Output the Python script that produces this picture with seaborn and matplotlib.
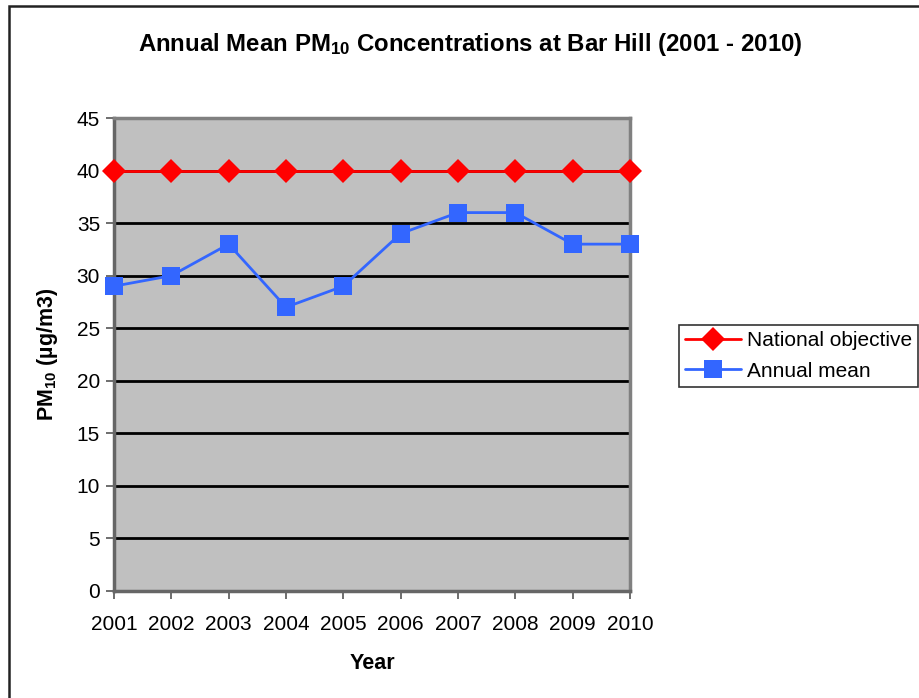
import matplotlib
matplotlib.use("Agg")
import matplotlib.pyplot as plt
from matplotlib.patches import Rectangle
import seaborn as sns
import pandas as pd

years = ["2001", "2002", "2003", "2004", "2005", "2006", "2007", "2008", "2009", "2010"]
national_objective = [40, 40, 40, 40, 40, 40, 40, 40, 40, 40]
annual_mean = [29, 30, 33, 27, 29, 34, 36, 36, 33, 33]
y_ticks = [0, 5, 10, 15, 20, 25, 30, 35, 40, 45]

sns.set_theme(style="white")
plt.rcParams["font.family"] = ["Liberation Sans", "DejaVu Sans"]
plt.rcParams["mathtext.fontset"] = "custom"
plt.rcParams["mathtext.rm"] = "Liberation Sans:bold"
plt.rcParams["mathtext.default"] = "rm"
plt.rcParams["text.color"] = "black"
plt.rcParams["axes.labelcolor"] = "black"
plt.rcParams["xtick.color"] = "black"
plt.rcParams["ytick.color"] = "black"

df = pd.DataFrame({
    "pos": list(range(len(years))),
    "National objective": national_objective,
    "Annual mean": annual_mean,
})

fig = plt.figure(figsize=(9.2, 6.98), dpi=100)
fig.patch.set_facecolor("white")
# outer chart frame
fig.patches.append(Rectangle((9 / 920, -0.2), 1.2, 1.2 - 6 / 698,
                             transform=fig.transFigure, fill=False,
                             edgecolor="#222222", linewidth=1.8, zorder=10))

ax = fig.add_axes([114 / 920, 1 - 591 / 698, (630 - 114) / 920, (591 - 118) / 698])
ax.set_facecolor("#C0C0C0")

for yv in y_ticks[1:-1]:
    ax.axhline(yv, color="black", linewidth=2, zorder=1)

sns.lineplot(data=df, x="pos", y="National objective", ax=ax, color="#FF0000",
             linewidth=2, marker="D", markersize=12, markeredgewidth=0,
             label="National objective", zorder=3, clip_on=False)
sns.lineplot(data=df, x="pos", y="Annual mean", ax=ax, color="#3366FF",
             linewidth=2, marker="s", markersize=13, markeredgewidth=0,
             label="Annual mean", zorder=3, clip_on=False)

ax.set_xlim(0, len(years) - 1)
ax.set_ylim(0, 45)
ax.set_xticks(range(len(years)))
ax.set_xticklabels(years)
ax.set_yticks(y_ticks)
ax.tick_params(axis="both", which="major", labelsize=15, direction="out",
               length=6, width=1.2, color="#555555", left=True, bottom=True,
               pad=4, labelcolor="black")
ax.tick_params(axis="x", pad=11)

for side, sp in ax.spines.items():
    sp.set_visible(True)
    sp.set_color("#808080")
    sp.set_linewidth(2.5)
ax.spines["left"].set_color("#666666")
ax.spines["bottom"].set_color("#666666")

ax.set_xlabel("Year", fontsize=15.5, fontweight="bold", labelpad=14)
ax.set_ylabel(r"PM$_{10}$ (µg/m3)", fontsize=15.5, fontweight="bold", labelpad=12)

fig.text(470 / 920, 1 - 44 / 698, r"Annual Mean PM$_{10}$ Concentrations at Bar Hill (2001 - 2010)",
         ha="center", va="center", fontsize=17.3, fontweight="bold")

leg = ax.legend(loc="center left", bbox_to_anchor=(679 / 920, 1 - 356 / 698),
                bbox_transform=fig.transFigure, frameon=True, fancybox=False,
                fontsize=15, borderpad=0.3, handlelength=2.7, handletextpad=0.25,
                labelspacing=0.55, borderaxespad=0)
leg.get_frame().set_edgecolor("black")
leg.get_frame().set_linewidth(1.2)

fig.savefig("out.png", dpi=100, facecolor="white")
